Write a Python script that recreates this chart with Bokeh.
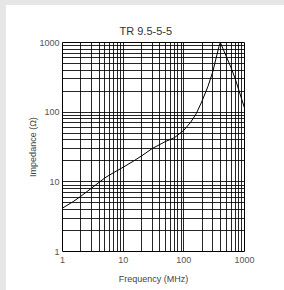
from bokeh.plotting import figure
from bokeh.models import FixedTicker
from bokeh.embed import file_html
from bokeh.resources import INLINE
from bokeh.core.templates import FILE
from jinja2 import Template

# Data
freq_mhz = [1, 1.5, 2, 3, 5, 7, 10, 15, 20, 30, 50, 70, 100, 130, 160, 200, 250, 300, 350, 380, 400, 450, 500, 600, 700, 800, 900, 1000]
impedance = [4.2, 5.2, 6.2, 8.1, 11.4, 13.6, 16.2, 20.0, 23.5, 30.0, 38.0, 43.0, 55.0, 72.0, 95.0, 145.0, 235.0, 380.0, 660.0, 880.0, 1000.0, 785.0, 633.0, 435.0, 305.0, 212.0, 153.0, 115.0]

major_ticks = [1, 10, 100, 1000]
minor_ticks = [m * d for d in [1, 10, 100] for m in range(2, 10)]
tick_labels = {1: "1", 10: "10", 100: "100", 1000: "1000"}

title_text = "TR 9.5-5-5"
x_label = "Frequency (MHz)"
y_label = "Impedance (\u03a9)"

font = "'Liberation Sans', Arial, sans-serif"

p = figure(x_axis_type="log", y_axis_type="log",
           x_range=(1, 1000), y_range=(1, 1000),
           frame_width=182, frame_height=209,
           min_border_left=62, min_border_right=40,
           min_border_top=42, min_border_bottom=39,
           output_backend="svg", toolbar_location=None,
           title=title_text)

p.title.text_font = font
p.title.text_font_size = "11px"
p.title.text_font_style = "normal"
p.title.text_color = "#333333"
p.title.align = "left"
p.title.offset = 57
p.title.standoff = 12

p.background_fill_color = "white"
p.border_fill_color = None
p.outline_line_color = "black"
p.outline_line_width = 1

for ax in (p.xaxis[0], p.yaxis[0]):
    ax.ticker = FixedTicker(ticks=major_ticks, minor_ticks=minor_ticks)
    ax.major_label_overrides = tick_labels
    ax.major_tick_line_color = None
    ax.minor_tick_line_color = None
    ax.major_tick_out = 0
    ax.major_tick_in = 0
    ax.minor_tick_out = 0
    ax.minor_tick_in = 0
    ax.axis_line_color = None
    ax.major_label_text_font = font
    ax.major_label_text_font_size = "9px"
    ax.major_label_text_color = "#555555"
    ax.axis_label_text_font = font
    ax.axis_label_text_font_size = "9px"
    ax.axis_label_text_font_style = "normal"
    ax.axis_label_text_color = "#444444"

p.xaxis.axis_label = x_label
p.yaxis.axis_label = y_label
p.xaxis.major_label_standoff = 5
p.xaxis.axis_label_standoff = 8
p.yaxis.major_label_standoff = 3
p.yaxis.axis_label_standoff = -2

for g in (p.xgrid[0], p.ygrid[0]):
    g.grid_line_color = "black"
    g.grid_line_width = 1
    g.grid_line_alpha = 0.85
    g.minor_grid_line_color = "black"
    g.minor_grid_line_width = 1
    g.minor_grid_line_alpha = 0.85

p.line(freq_mhz, impedance, line_color="black", line_width=1)

tmpl = Template("""{% extends base %}
{% block preamble %}<style>html, body{background:linear-gradient(#e6e6e6,#e6e6e6) 0 0/6px 100% no-repeat, linear-gradient(#e6e6e6,#e6e6e6) 0 0/100% 5px no-repeat, #ffffff;}</style>{% endblock %}""")

html = file_html(p, INLINE, title="TR 9.5-5-5", template=tmpl, template_variables={"base": FILE})
open("out.html", "w").write(html)
